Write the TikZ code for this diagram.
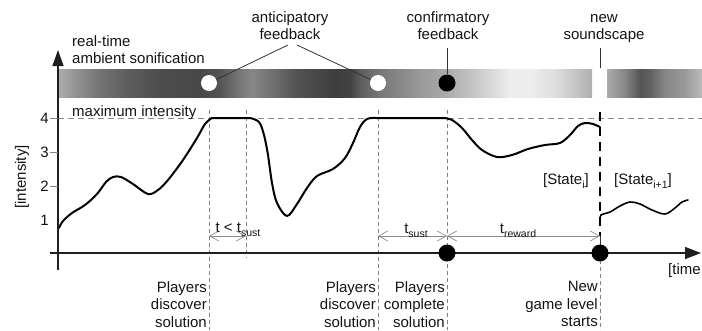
\documentclass[tikz,border=0pt]{standalone}
\usepackage{fontspec}
\setmainfont{Liberation Sans}
\usetikzlibrary{arrows.meta}
\newcommand\lowsub[1]{\raisebox{-4pt}{\fontsize{10.5}{10.5}\selectfont #1}}
\pgfdeclarehorizontalshading{barA}{100bp}{color(0bp)=(black!33); color(25bp)=(black!33); color(26.50bp)=(black!42); color(28.85bp)=(black!55); color(31.66bp)=(black!64); color(34.47bp)=(black!70); color(38.23bp)=(black!72); color(40.10bp)=(black!67); color(41.98bp)=(black!53); color(43.10bp)=(black!47); color(44.79bp)=(black!55); color(47.14bp)=(black!67); color(50.89bp)=(black!76); color(52.30bp)=(black!74); color(53.42bp)=(black!62); color(55.11bp)=(black!53); color(56.99bp)=(black!47); color(58.86bp)=(black!40); color(61.40bp)=(black!33); color(64.49bp)=(black!20); color(67.31bp)=(black!7); color(69.19bp)=(black!7); color(71.53bp)=(black!13); color(73.87bp)=(black!25); color(75bp)=(black!32); color(100bp)=(black!32)}
\pgfdeclarehorizontalshading{barB}{100bp}{color(0bp)=(black!33); color(25bp)=(black!33); color(34.47bp)=(black!47); color(42.37bp)=(black!67); color(47.63bp)=(black!62); color(55.53bp)=(black!47); color(66.05bp)=(black!40); color(75bp)=(black!27); color(100bp)=(black!27)}
\begin{document}
\begin{tikzpicture}[x=1pt,y=-1pt,
  font=\fontsize{15}{17.5}\selectfont,
  lbl/.style={inner sep=0pt, text=black!92},
  gdash/.style={draw=black!50, line width=0.7pt, dash pattern=on 4pt off 3pt},
  maxline/.style={draw=black!45, line width=0.8pt, dash pattern=on 6pt off 4pt},
  thickdash/.style={draw=black, line width=1.7pt, dash pattern=on 9pt off 6pt},
  tarrow/.style={draw=black!45, line width=0.7pt, {Straight Barb[length=9pt,width=10pt]}-{Straight Barb[length=9pt,width=10pt]}},
  conn/.style={draw=black!80, line width=0.8pt},
  wdot/.style={circle, fill=white, inner sep=0pt, minimum size=16pt},
  bdot/.style={circle, fill=black, inner sep=0pt, minimum size=17pt},
  axis/.style={draw=black!88, line width=1.4pt},
  tick/.style={draw=black!50, line width=0.8pt},
  curve/.style={draw=black, line width=2pt, line join=round, line cap=round}]
\useasboundingbox (0,0) rectangle (702,330);
% sonification bar
\shade[shading=barA] (59,69) rectangle (592,97);
\shade[shading=barB] (607,69) rectangle (702,97);
% guide lines
\draw[maxline] (58,118) -- (702,118);
\draw[gdash] (209,110) -- (209,330);
\draw[gdash] (246,110) -- (246,258);
\draw[gdash] (378,110) -- (378,330);
\draw[gdash] (447,110) -- (447,330);
\draw[gdash] (600,253) -- (600,330);
\draw[thickdash] (600,112) -- (600,236);
\draw[conn] (600,236) -- (600,253);
% intensity curve
\draw[curve] plot[smooth, tension=0.55] coordinates {(59,228) (63,221) (72,213) (85,205) (97,194) (106,182) (113,177) (121,177) (133,184) (148,194) (158,190) (168,180) (183,160) (197,138) (205,124) (212,118)}
  -- plot[smooth, tension=0.55] coordinates {(250,118) (259,122) (264,135) (268,155) (272,183) (277,203) (287,216) (297,204) (307,188) (317,176) (333,169) (345,158) (353,143) (360,127) (367,119) (376,118)}
  -- plot[smooth, tension=0.55] coordinates {(444,118) (452,120) (462,128) (472,140) (482,150) (497,157) (512,155) (528,149) (545,145) (560,143) (570,135) (578,126) (585,123) (593,124) (600,127)};
\draw[curve, line width=1.6pt] plot[smooth, tension=0.55] coordinates {(600,220) (601,215) (610,212) (620,206) (630,202) (640,204) (652,210) (665,214) (675,208) (682,202) (688,200)};
% axes
\coordinate (yb) at (58,270); \coordinate (yt) at (58,50);
\coordinate (xl) at (50,253); \coordinate (xr) at (701,253);
\draw[axis, -{Triangle[length=16pt,width=11pt]}] (yb) -- (yt);
\draw[axis, -{Triangle[length=16pt,width=12pt]}] (xl) -- (xr);
\foreach \v/\yy in {2/186,3/152,4/118} \draw[tick] (50,\yy) -- (58,\yy);
\foreach \v/\yy in {1/220,2/186,3/152,4/118} \node[lbl, anchor=east] (tk\v) at (49,\yy) {\v};
\node[lbl, rotate=90] (ylab) at (22,177) {[intensity]};
\node[lbl, anchor=base west] (tlab) at (668,274) {[time};
% feedback markers
\node[wdot] (w1) at (209,83) {};
\node[wdot] (w2) at (378,83) {};
\node[bdot] (b1) at (447,83) {};
\node[bdot] (e1) at (447,253) {};
\node[bdot] (e2) at (600,253) {};
% top labels
\node[lbl, anchor=north west, align=left] (rts) at (72,35) {real-time\\ambient sonification};
\node[lbl, anchor=north, align=center] (ant) at (290,11) {anticipatory\\feedback};
\node[lbl, anchor=north, align=center] (conf) at (448,11) {confirmatory\\feedback};
\node[lbl, anchor=north, align=center] (nsc) at (604,14) {new\\soundscape};
\node[lbl, anchor=base west] (maxi) at (72,116) {maximum intensity};
\coordinate (a1) at (288,45); \coordinate (a2) at (297,45);
\coordinate (c1) at (447,48); \coordinate (n1) at (600,48); \coordinate (n2) at (600,68);
\draw[conn] (a1) -- (w1);
\draw[conn] (a2) -- (w2);
\draw[conn] (c1) -- (b1);
\draw[conn] (n1) -- (n2);
% time spans
\coordinate (s1) at (209,236); \coordinate (s2) at (246,236);
\coordinate (s3) at (378,236); \coordinate (s4) at (447,236); \coordinate (s5) at (600,236);
\draw[tarrow] (s1) -- (s2);
\draw[tarrow] (s3) -- (s4);
\draw[tarrow] (s4) -- (s5);
\node[lbl, anchor=base] (tlt) at (238,232) {t < t\lowsub{sust}};
\node[lbl, anchor=base] (tsu) at (416,233) {t\lowsub{sust}};
\node[lbl, anchor=base] (tre) at (518,233) {t\lowsub{reward}};
\node[lbl, anchor=base east] (st1) at (589,184) {[State\lowsub{i}]};
\node[lbl, anchor=base west] (st2) at (614,184) {[State\lowsub{i+1}]};
% bottom labels
\node[lbl, anchor=north east, align=right] (pd1) at (207,281) {Players\\discover\\solution};
\node[lbl, anchor=north east, align=right] (pd2) at (376,281) {Players\\discover\\solution};
\node[lbl, anchor=north east, align=right] (pcs) at (445,281) {Players\\complete\\solution};
\node[lbl, anchor=north east, align=right] (ngl) at (598,281) {New\\game level\\starts};
\end{tikzpicture}
\end{document}
